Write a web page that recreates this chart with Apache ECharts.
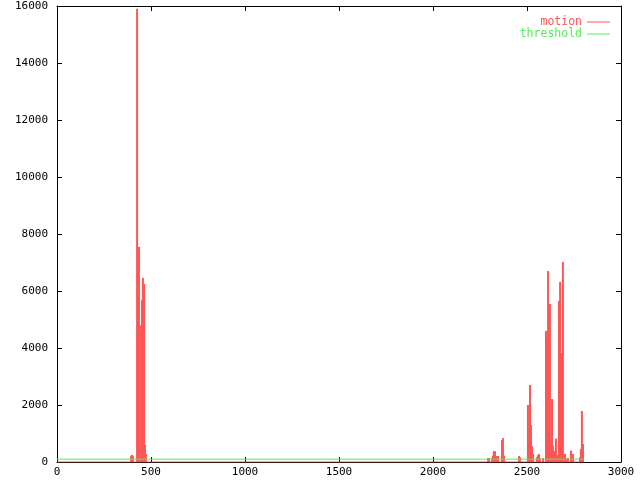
<!DOCTYPE html>
<html>
<head>
<meta charset="utf-8">
<script src="https://cdn.jsdelivr.net/npm/echarts@6/dist/echarts.min.js"></script>
<style>
html,body{margin:0;padding:0;background:#fff;}
#chart{width:640px;height:480px;}
</style>
</head>
<body>
<div id="chart"></div>
<script>
// frame numbers with non-zero motion
var motionX = [394,399,404,426,431,436,447,452,457,463,468,473,
  2293,2298,2314,2319,2324,2330,2340,2346,2367,2372,2378,2457,2463,
  2505,2511,2516,2521,2527,2532,2553,2558,2564,2569,2585,
  2601,2606,2612,2617,2622,2628,2633,2638,2644,2649,2654,2660,
  2670,2676,2681,2686,2691,2697,2702,2707,2713,2718,2734,2739,2745,
  2782,2787,2792,2798];
var motionY = [220,250,200,15900,2500,7550,4800,5680,6460,6250,600,280,
  140,140,140,230,385,375,210,210,770,840,225,210,165,
  2000,950,2700,1300,560,280,165,240,280,130,140,
  4600,4180,6700,3300,5540,620,2210,580,390,240,820,240,
  5650,6320,3820,280,7020,280,280,130,120,140,400,130,280,
  165,455,1790,630];
// motion baseline (zero motion) and threshold over the recorded range
var rangeX = [0, 2803];
var baselineY = [0, 0];
var thresholdY = [100, 100];
var xTicks = {min:0, max:3000, interval:500};
var yTicks = {min:0, max:16000, interval:2000};

var RED = '#ff5555', GREEN = '#55ee55';
var FONT = 'DejaVu Sans Mono';

function zip(a,b){ return a.map(function(v,i){ return [v,b[i]]; }); }
function plain(v){ return String(v); }

var chart = echarts.init(document.getElementById('chart'), null, {renderer:'canvas'});
function mkAxis(t, pos, showLabel, margin){
  return {
    type:'value', position:pos,
    min:t.min, max:t.max, interval:t.interval,
    axisLine:{show:true, onZero:false, lineStyle:{color:'#000', width:1}},
    axisTick:{show:true, inside:true, length:5, lineStyle:{color:'#000', width:1}},
    splitLine:{show:false},
    axisLabel:{show:true, color: showLabel ? '#000' : 'rgba(0,0,0,0)', fontFamily:FONT, fontSize:11, margin:margin, formatter:plain}
  };
}

chart.setOption({
  animation:false,
  backgroundColor:'#fff',
  grid:{left:57, right:19, top:6, bottom:18, outerBoundsMode:'none'},
  legend:{
    orient:'vertical', right:25, top:11, align:'right',
    itemWidth:23, itemHeight:1, itemGap:0,
    textStyle:{fontFamily:FONT, fontSize:11.5, lineHeight:10},
    data:[{name:'motion', icon:'rect', textStyle:{color:RED}}, {name:'threshold', icon:'rect', textStyle:{color:GREEN}}]
  },
  xAxis:[ mkAxis(xTicks,'bottom',true,5), mkAxis(xTicks,'top',false,5) ],
  yAxis:[ mkAxis(yTicks,'left',true,9), mkAxis(yTicks,'right',false,9) ],
  series:[
    {name:'motion', type:'bar', xAxisIndex:0, yAxisIndex:0, barWidth:2,
     itemStyle:{color:RED}, data:zip(motionX, motionY), z:3},
    {name:'motion', type:'line', xAxisIndex:0, yAxisIndex:0, symbol:'none', showSymbol:false,
     lineStyle:{color:RED, width:1}, itemStyle:{color:RED}, data:zip(rangeX, baselineY), z:4},
    {name:'threshold', type:'line', xAxisIndex:0, yAxisIndex:0, symbol:'none', showSymbol:false,
     lineStyle:{color:GREEN, width:1}, itemStyle:{color:GREEN}, data:zip(rangeX, thresholdY), z:4}
  ]
});
</script>
</body>
</html>
